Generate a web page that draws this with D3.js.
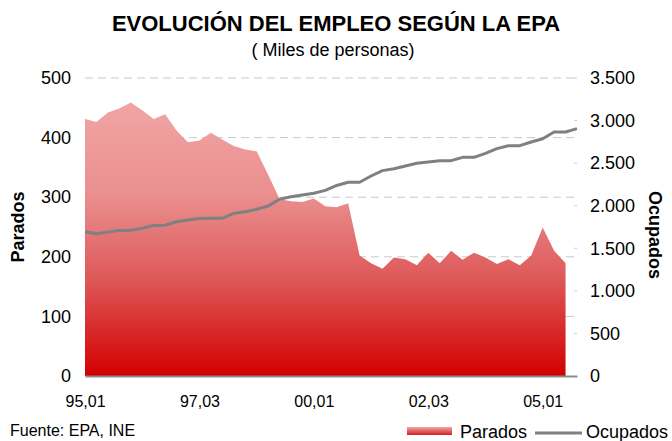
<!DOCTYPE html>
<html>
<head>
<meta charset="utf-8">
<script src="https://cdn.jsdelivr.net/npm/d3@7"></script>
<style>
  html, body { margin: 0; padding: 0; background: #ffffff; }
  svg { display: block; font-family: "Liberation Sans", Arial, sans-serif; }
</style>
</head>
<body>
<svg id="chart" width="672" height="441"></svg>
<script>
const categories = [
  "95,01","95,02","95,03","95,04","96,01","96,02","96,03","96,04",
  "97,01","97,02","97,03","97,04","98,01","98,02","98,03","98,04",
  "99,01","99,02","99,03","99,04","00,01","00,02","00,03","00,04",
  "01,01","01,02","01,03","01,04","02,01","02,02","02,03","02,04",
  "03,01","03,02","03,03","03,04","04,01","04,02","04,03","04,04",
  "05,01","05,02","05,03","05,04"
];
const tickLabels = ["95,01","97,03","00,01","02,03","05,01"];
const parados = [
  431, 426, 442, 449, 459, 446, 431, 439, 412, 392,
  395, 408, 397, 386, 380, 377, 338, 297, 293, 292,
  298, 285, 283, 290, 202, 189, 180, 199, 196, 186,
  207, 189, 210, 195, 207, 199, 188, 196, 186, 202,
  249, 210, 189
];
const ocupados = [
  1695, 1670, 1690, 1710, 1712, 1735, 1768, 1770, 1812, 1832,
  1850, 1852, 1852, 1910, 1930, 1958, 1995, 2075, 2106, 2126,
  2146, 2180, 2238, 2275, 2275, 2349, 2412, 2435, 2467, 2498,
  2513, 2529, 2529, 2568, 2568, 2615, 2670, 2705, 2705, 2748,
  2787, 2866, 2866, 2905
];
const leftTicks = [0, 100, 200, 300, 400, 500];
const rightTicks = [0, 500, 1000, 1500, 2000, 2500, 3000, 3500];

const svg = d3.select("#chart");
const L = 85, R = 577, T = 78, B = 376;

const x = d3.scalePoint().domain(categories).range([L, R]);
const yL = d3.scaleLinear().domain([0, 500]).range([B, T]);
const yR = d3.scaleLinear().domain([0, 3500]).range([B, T]);
const fmtR = d3.format(",");
const esNum = v => fmtR(v).replace(/,/g, ".");

// gradient
const defs = svg.append("defs");
const grad = defs.append("linearGradient").attr("id", "redGrad")
  .attr("gradientUnits", "userSpaceOnUse")
  .attr("x1", 0).attr("y1", 100).attr("x2", 0).attr("y2", B);
grad.append("stop").attr("offset", "0%").attr("stop-color", "#f1a5a5");
grad.append("stop").attr("offset", "35%").attr("stop-color", "#ea8e8e");
grad.append("stop").attr("offset", "65%").attr("stop-color", "#de5858");
grad.append("stop").attr("offset", "100%").attr("stop-color", "#d20000");
const lgrad = defs.append("linearGradient").attr("id", "legGrad")
  .attr("x1", 0).attr("y1", 0).attr("x2", 0).attr("y2", 1);
lgrad.append("stop").attr("offset", "0%").attr("stop-color", "#f1a5a5");
lgrad.append("stop").attr("offset", "100%").attr("stop-color", "#d42020");

// title
svg.append("text").attr("x", 336).attr("y", 31).attr("text-anchor", "middle")
  .style("font-size", "22px").style("font-weight", "bold").attr("fill", "#000")
  .text("EVOLUCIÓN DEL EMPLEO SEGÚN LA EPA");
svg.append("text").attr("x", 333).attr("y", 56).attr("text-anchor", "middle")
  .style("font-size", "18px").attr("fill", "#000")
  .text("( Miles de personas)");

// gridlines
svg.append("g").selectAll("line").data(leftTicks.filter(d => d > 0)).join("line")
  .attr("x1", L).attr("x2", R)
  .attr("y1", d => yL(d)).attr("y2", d => yL(d))
  .attr("stroke", "#c8c8c8").attr("stroke-width", 1).attr("stroke-dasharray", "8,5");

// area
const pData = parados.map((v, i) => ({ c: categories[i], v }));
svg.append("path").datum(pData)
  .attr("d", d3.area().x(d => x(d.c)).y0(B).y1(d => yL(d.v)))
  .attr("fill", "url(#redGrad)");

// line
const oData = ocupados.map((v, i) => ({ c: categories[i], v }));
svg.append("path").datum(oData)
  .attr("d", d3.line().x(d => x(d.c)).y(d => yR(d.v)))
  .attr("fill", "none").attr("stroke", "#808080").attr("stroke-width", 3)
  .attr("stroke-linejoin", "round");

// baseline axis
const xAxis = d3.axisBottom(x).tickValues(tickLabels).tickSize(0).tickPadding(20);
const gx = svg.append("g").attr("transform", `translate(0,${B})`).call(xAxis);
gx.select(".domain").attr("stroke", "#8c8c8c").attr("stroke-width", 2);
gx.selectAll("text").style("font-size", "16px").attr("fill", "#000")
  .style("font-family", "'Liberation Sans', Arial, sans-serif");

// left axis
const gl = svg.append("g").attr("transform", `translate(${L - 14},0)`)
  .call(d3.axisLeft(yL).tickValues(leftTicks).tickSize(0).tickPadding(0));
gl.select(".domain").remove();
gl.selectAll("text").style("font-size", "18px").attr("fill", "#000")
  .style("font-family", "'Liberation Sans', Arial, sans-serif");

// right axis
const gr = svg.append("g").attr("transform", `translate(${R + 13},0)`)
  .call(d3.axisRight(yR).tickValues(rightTicks).tickSize(0).tickPadding(0).tickFormat(esNum));
gr.select(".domain").remove();
gr.selectAll("text").style("font-size", "18px").attr("fill", "#000")
  .style("font-family", "'Liberation Sans', Arial, sans-serif");

// right small tick marks
svg.append("g").selectAll("line").data(rightTicks.filter(d => d > 0)).join("line")
  .attr("x1", R - 3).attr("x2", R)
  .attr("y1", d => yR(d)).attr("y2", d => yR(d))
  .attr("stroke", "#d0d0d0").attr("stroke-width", 1);

// axis titles
svg.append("text").attr("transform", `translate(24,${(T + B) / 2}) rotate(-90)`)
  .attr("text-anchor", "middle").style("font-size", "18px").style("font-weight", "bold")
  .text("Parados");
svg.append("text").attr("transform", `translate(649,${(T + B) / 2 + 8}) rotate(90)`)
  .attr("text-anchor", "middle").style("font-size", "18px").style("font-weight", "bold")
  .text("Ocupados");

// footer
svg.append("text").attr("x", 10).attr("y", 436).style("font-size", "16px")
  .text("Fuente: EPA, INE");

// legend
svg.append("rect").attr("x", 407).attr("y", 427).attr("width", 45).attr("height", 8)
  .attr("fill", "url(#legGrad)");
svg.append("text").attr("x", 460).attr("y", 438).style("font-size", "18px").text("Parados");
svg.append("line").attr("x1", 535).attr("x2", 582).attr("y1", 433).attr("y2", 433)
  .attr("stroke", "#808080").attr("stroke-width", 3);
svg.append("text").attr("x", 586).attr("y", 438).style("font-size", "18px").text("Ocupados");
</script>
</body>
</html>
